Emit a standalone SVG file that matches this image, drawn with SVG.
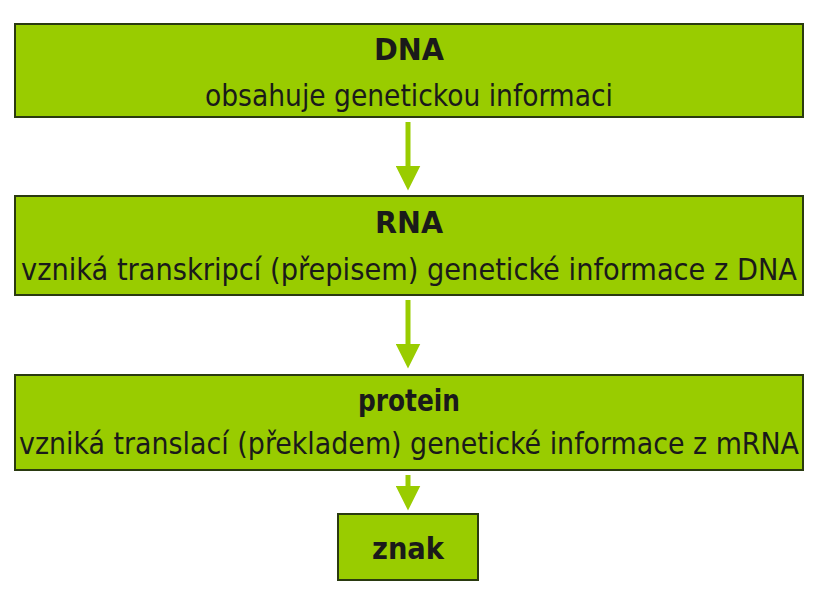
<svg xmlns="http://www.w3.org/2000/svg" width="818" height="595" viewBox="0 0 818 595">
<style>
.box{fill:#99cc00;stroke:#2a3a10;stroke-width:2}
text{font-family:"DejaVu Sans Condensed","Liberation Sans Narrow","Liberation Sans",sans-serif;fill:#1a1a1a;text-anchor:middle;font-size:31px}
.b{font-weight:bold}
.arr{stroke:#99cc00;stroke-width:5;fill:none}
</style>
<defs><marker id="ah" markerWidth="5" markerHeight="5" refX="2.5" refY="2.5" orient="auto" markerUnits="strokeWidth"><path d="M0,0L5,2.5L0,5z" fill="#99cc00"/></marker></defs>
<rect width="818" height="595" fill="#fff"/>
<g id="n1"><rect class="box" x="15" y="24" width="788" height="93"/><text class="b" x="409" y="60" textLength="70" lengthAdjust="spacingAndGlyphs">DNA</text><text x="409" y="106" textLength="408" lengthAdjust="spacingAndGlyphs">obsahuje genetickou informaci</text></g>
<g id="n2"><rect class="box" x="15" y="196" width="788" height="99"/><text class="b" x="409" y="233" textLength="68" lengthAdjust="spacingAndGlyphs">RNA</text><text x="409" y="280" textLength="776" lengthAdjust="spacingAndGlyphs">vzniká transkripcí (přepisem) genetické informace z DNA</text></g>
<g id="n3"><rect class="box" x="15" y="375" width="788" height="95"/><text class="b" x="409" y="411" textLength="102" lengthAdjust="spacingAndGlyphs">protein</text><text x="409" y="454" textLength="780" lengthAdjust="spacingAndGlyphs">vzniká translací (překladem) genetické informace z mRNA</text></g>
<g id="n4"><rect class="box" x="338" y="514" width="140" height="66"/><text class="b" x="408" y="559" textLength="72" lengthAdjust="spacingAndGlyphs">znak</text></g>
<g id="connectors">
<line class="arr" x1="408" y1="122" x2="408" y2="178" marker-end="url(#ah)"/>
<line class="arr" x1="408" y1="300" x2="408" y2="356" marker-end="url(#ah)"/>
<line class="arr" x1="408" y1="475" x2="408" y2="498" marker-end="url(#ah)"/>
</g>
</svg>
